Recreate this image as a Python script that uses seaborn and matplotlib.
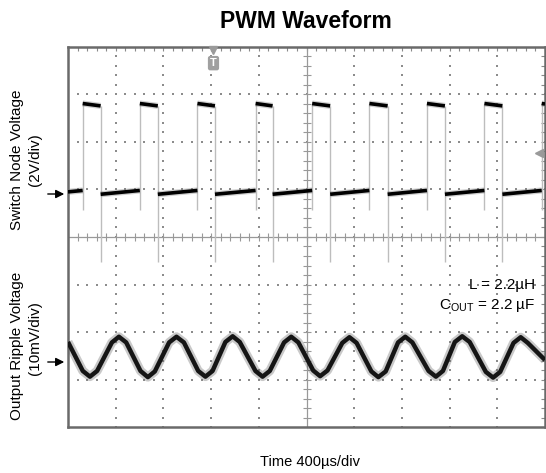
import numpy as np
import pandas as pd
import matplotlib
matplotlib.use("Agg")
import matplotlib.pyplot as plt
import seaborn as sns

# ---- data (in scope divisions: x 0..10, y 0..8) ----
rise_x = [0.308, 1.506, 2.713, 3.933, 5.119, 6.318, 7.525, 8.730, 9.931]
fall_x = [0.684, 1.883, 3.081, 4.289, 5.496, 6.701, 7.902, 9.107]
start_low = 4.95
high_start, high_end = 6.81, 6.76
low_start, low_end = 4.90, 4.98
rise_dip = 4.57
fall_undershoot = 3.47

ripple_x = [0.00, 0.31, 0.46, 0.61, 0.92, 1.067, 1.22, 1.52, 1.674, 1.82, 2.12, 2.274,
            2.43, 2.73, 2.881, 3.03, 3.30, 3.452, 3.60, 3.93, 4.079, 4.23, 4.53, 4.680,
            4.83, 5.14, 5.286, 5.44, 5.75, 5.900, 6.05, 6.36, 6.506, 6.66, 6.92, 7.071,
            7.22, 7.56, 7.713, 7.86, 8.11, 8.264, 8.42, 8.76, 8.912, 9.06, 9.34, 9.491,
            9.64, 10.0]
ripple_y = [1.79, 1.18, 1.06, 1.18, 1.78, 1.90, 1.78, 1.18, 1.05, 1.17, 1.78, 1.90,
            1.78, 1.18, 1.06, 1.18, 1.79, 1.91, 1.79, 1.18, 1.06, 1.18, 1.78, 1.90,
            1.78, 1.19, 1.07, 1.19, 1.77, 1.89, 1.77, 1.17, 1.05, 1.17, 1.78, 1.90,
            1.78, 1.18, 1.06, 1.18, 1.79, 1.91, 1.79, 1.16, 1.04, 1.16, 1.77, 1.89,
            1.77, 1.41]

switch_label = ["Switch Node Voltage", "(2V/div)"]
ripple_label = ["Output Ripple Voltage", "(10mV/div)"]
title = "PWM Waveform"
xlabel = "Time 400µs/div"
ann_L = "L = 2.2µH"
ann_C = r"C$_{\mathregular{OUT}}$ = 2.2 µF"

# ---- build tables ----
levels = []   # flat (black) segments
edges = []    # vertical transitions (light)
seg = 0
levels += [(seg, 0.0, start_low), (seg, rise_x[0], low_end)]
seg += 1
for i, r in enumerate(rise_x):
    edges += [(seg, r, rise_dip), (seg, r, high_start)]
    seg += 1
    if i < len(fall_x):
        f = fall_x[i]
        levels += [(seg, r, high_start), (seg, f, high_end)]
        seg += 1
        edges += [(seg, f, high_end), (seg, f, fall_undershoot)]
        seg += 1
        nxt = rise_x[i + 1] if i + 1 < len(rise_x) else 10.0
        levels += [(seg, f, low_start), (seg, nxt, low_end)]
        seg += 1
    else:
        levels += [(seg, r, high_start), (seg, 10.0, high_start - 0.01)]
        seg += 1
lev_df = pd.DataFrame(levels, columns=["seg", "t", "v"])
edge_df = pd.DataFrame(edges, columns=["seg", "t", "v"])
rip_df = pd.DataFrame({"t": ripple_x, "v": ripple_y})

# ---- plot ----
sns.set_style("white")
plt.rcParams["font.family"] = ["Liberation Sans", "DejaVu Sans"]
plt.rcParams["text.color"] = "black"

W, H = 546, 473
fig = plt.figure(figsize=(W / 100, H / 100), dpi=100)
L, R, T, B = 68, 545, 47, 427
ax = fig.add_axes([L / W, 1 - B / H, (R - L) / W, (B - T) / H])
ax.set_xlim(0, 10)
ax.set_ylim(0, 8)

# dotted graticule
gcol = "#8c8c8c"
fine = np.round(np.arange(0, 10.001, 0.2), 3)
fine_y = np.round(np.arange(0, 8.001, 0.2), 3)
dots = []
for gx in range(1, 10):
    if gx != 5:
        dots += [(gx, yy) for yy in fine_y]
for gy in range(1, 8):
    if gy != 4:
        dots += [(xx, gy) for xx in fine]
dots = np.array(dots)
ax.scatter(dots[:, 0], dots[:, 1], s=1.3, marker="s", color=gcol, linewidths=0, zorder=1)

# center crosshair with ticks
ax.axvline(5, color="#999999", lw=0.9, zorder=1)
ax.axhline(4, color="#999999", lw=0.9, zorder=1)
ax.plot(fine, [4] * len(fine), ls="none", marker="|", ms=6, mew=0.8, color="#999999", zorder=1)
ax.plot([5] * len(fine_y), fine_y, ls="none", marker="_", ms=6, mew=0.8, color="#999999", zorder=1)

# traces
sns.lineplot(data=edge_df, x="t", y="v", units="seg", estimator=None, sort=False,
             color="#bdbdbd", lw=1.0, ax=ax, zorder=2)
sns.lineplot(data=lev_df, x="t", y="v", units="seg", estimator=None, sort=False,
             color="#777777", lw=4.4, alpha=0.35, ax=ax, zorder=3)
sns.lineplot(data=lev_df, x="t", y="v", units="seg", estimator=None, sort=False,
             color="black", lw=2.6, ax=ax, zorder=4)
sns.lineplot(data=rip_df, x="t", y="v", estimator=None, sort=False,
             color="#666666", lw=6.5, alpha=0.35, ax=ax, zorder=3)
sns.lineplot(data=rip_df, x="t", y="v", estimator=None, sort=False,
             color="#151515", lw=3.2, ax=ax, zorder=4)
for ln in ax.lines:
    ln.set_solid_capstyle("butt")
    ln.set_solid_joinstyle("round")

# frame & ticks
for s in ax.spines.values():
    s.set_color("#6a6a6a")
    s.set_linewidth(1.8)
ax.set_xticks(range(0, 11))
ax.set_yticks(range(0, 9))
ax.set_xticks(fine, minor=True)
ax.set_yticks(fine_y, minor=True)
ax.tick_params(which="both", direction="in", length=3, width=0.8, color="#8a8a8a",
               top=True, right=True, labelbottom=False, labelleft=False)
ax.set_xlabel("")
ax.set_ylabel("")

# trigger markers
ax.plot([3.05], [7.93], marker="v", ms=6, color="#9a9a9a", ls="none", clip_on=False, zorder=5)
ax.text(3.05, 7.66, "T", ha="center", va="center", color="white", fontsize=8,
        fontweight="bold", bbox=dict(boxstyle="round,pad=0.2", fc="#a0a0a0", ec="none"), zorder=5)
ax.plot([9.88], [5.77], marker="<", ms=6, color="#9a9a9a", ls="none", zorder=5)

# annotations
fig.text(535 / W, 1 - 285 / H, ann_L, ha="right", va="center", fontsize=11)
fig.text(535 / W, 1 - 305 / H, ann_C, ha="right", va="center", fontsize=11)

# title and labels
fig.text(306 / W, 1 - 21 / H, title, ha="center", va="center", fontsize=16.5, fontweight="bold")
fig.text(310 / W, 1 - 462 / H, xlabel, ha="center", va="center", fontsize=10.5)
fig.text(17 / W, 1 - 160 / H, switch_label[0], rotation=90, ha="center", va="center", fontsize=11)
fig.text(35 / W, 1 - 160 / H, switch_label[1], rotation=90, ha="center", va="center", fontsize=11)
fig.text(17 / W, 1 - 346 / H, ripple_label[0], rotation=90, ha="center", va="center", fontsize=11)
fig.text(35 / W, 1 - 338 / H, ripple_label[1], rotation=90, ha="center", va="center", fontsize=11)

# ground reference arrows
for py in (194, 362):
    fig.add_artist(matplotlib.patches.FancyArrowPatch(
        (45 / W, 1 - py / H), (67 / W, 1 - py / H), transform=fig.transFigure,
        arrowstyle="-|>,head_length=5,head_width=2.5", color="black", lw=1.0))

fig.savefig("out.png", dpi=100)
